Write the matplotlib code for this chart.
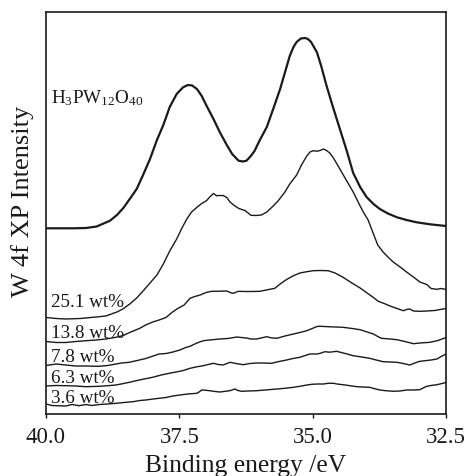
import matplotlib
matplotlib.use("Agg")
import matplotlib.pyplot as plt

plt.rcParams["font.family"] = ["Liberation Serif", "DejaVu Serif"]
plt.rcParams["mathtext.fontset"] = "custom"
plt.rcParams["mathtext.rm"] = "Liberation Serif"
plt.rcParams["mathtext.it"] = "Liberation Serif:italic"

# W 4f spectra: binding energy (eV) and intensity (arb. units, stacked)
hpw_energy = [40.00, 39.49, 39.25, 39.05, 38.80, 38.67, 38.55, 38.43, 38.30, 38.18,
              38.05, 37.92, 37.80, 37.68, 37.55, 37.43, 37.34, 37.26, 37.17, 37.08,
              36.99, 36.86, 36.74, 36.61, 36.51, 36.39, 36.31, 36.24, 36.16, 36.09,
              35.99, 35.86, 35.74, 35.61, 35.49, 35.43, 35.36, 35.30, 35.22, 35.14,
              35.09, 35.03, 34.92, 34.84, 34.74, 34.62, 34.49, 34.36, 34.24, 34.11,
              33.99, 33.86, 33.74, 33.59, 33.42, 33.24, 33.05, 32.80, 32.50]
hpw_int = [185.7, 185.7, 186.0, 187.5, 193.3, 199.0, 206.0, 215.0, 225.0, 239.0,
           255.0, 274.0, 289.0, 307.0, 320.0, 326.7, 329.0, 328.5, 325.0, 318.0,
           308.3, 295.0, 281.7, 269.0, 260.0, 253.3, 252.5, 253.3, 258.0, 263.0,
           274.0, 287.0, 305.0, 325.0, 347.0, 358.0, 367.0, 372.0, 375.5, 376.0,
           375.0, 372.0, 361.7, 348.0, 328.3, 307.0, 285.0, 263.0, 241.0, 227.0,
           217.0, 210.0, 205.0, 200.5, 196.7, 194.0, 191.7, 189.7, 188.0]

w251_energy = [40.00, 39.81, 39.63, 39.36, 39.06, 38.88, 38.67, 38.56, 38.43, 38.30,
               38.18, 38.05, 37.92, 37.80, 37.68, 37.55, 37.46, 37.36, 37.27, 37.17,
               37.08, 36.99, 36.93, 36.86, 36.80, 36.76, 36.68, 36.61, 36.55, 36.47,
               36.39, 36.33, 36.27, 36.21, 36.16, 36.06, 35.96, 35.86, 35.74, 35.65,
               35.52, 35.43, 35.30, 35.21, 35.11, 35.05, 34.99, 34.92, 34.86, 34.80,
               34.74, 34.68, 34.61, 34.49, 34.36, 34.24, 34.11, 34.05, 33.96, 33.86,
               33.78, 33.68, 33.59, 33.49, 33.36, 33.24, 33.11, 32.99, 32.86, 32.78,
               32.67, 32.59, 32.50]
w251_int = [96.5, 95.5, 95.0, 95.5, 97.0, 98.0, 102.0, 105.0, 110.0, 116.0,
            123.0, 131.0, 139.0, 150.0, 163.0, 175.0, 185.0, 195.0, 202.0, 206.7,
            210.5, 213.3, 217.0, 220.5, 218.2, 218.5, 218.5, 216.5, 212.0, 208.5,
            205.7, 204.5, 203.5, 201.0, 198.7, 198.5, 199.0, 202.0, 208.0, 213.0,
            222.0, 230.0, 239.0, 249.0, 258.0, 262.0, 263.3, 262.8, 263.5, 265.0,
            263.5, 261.0, 256.0, 245.0, 233.0, 222.0, 208.0, 202.0, 194.0, 180.0,
            169.0, 162.0, 157.0, 152.0, 147.0, 142.0, 137.0, 132.0, 129.5, 125.5,
            124.7, 125.5, 124.5]

w138_energy = [40.00, 39.81, 39.63, 39.44, 39.25, 39.06, 38.88, 38.71, 38.56, 38.41,
               38.25, 38.13, 38.00, 37.88, 37.75, 37.64, 37.53, 37.41, 37.30, 37.21,
               37.11, 37.00, 36.89, 36.74, 36.61, 36.55, 36.49, 36.39, 36.27, 36.14,
               35.99, 35.84, 35.71, 35.61, 35.49, 35.36, 35.24, 35.11, 34.99, 34.86,
               34.71, 34.58, 34.43, 34.28, 34.11, 33.98, 33.86, 33.77, 33.66, 33.55,
               33.42, 33.30, 33.23, 33.18, 33.11, 32.99, 32.86, 32.71, 32.50]
w138_int = [72.5, 71.5, 71.5, 72.5, 73.3, 74.0, 75.0, 76.5, 78.3, 82.0,
            85.5, 89.0, 92.0, 94.0, 96.5, 101.5, 105.5, 109.0, 115.7, 117.5,
            119.0, 121.5, 122.7, 122.8, 123.0, 121.5, 120.7, 122.7, 122.5, 122.5,
            122.7, 124.3, 125.7, 130.0, 134.5, 138.3, 141.0, 142.3, 143.3, 143.5,
            143.3, 141.0, 136.7, 131.5, 126.0, 121.0, 116.5, 112.7, 110.5, 108.0,
            105.5, 103.3, 104.7, 105.0, 103.0, 102.7, 103.0, 103.5, 105.5]

w78_energy = [40.00, 39.81, 39.63, 39.44, 39.25, 39.01, 38.84, 38.69, 38.58, 38.44,
              38.29, 38.13, 37.99, 37.88, 37.75, 37.62, 37.49, 37.38, 37.30, 37.17,
              37.05, 36.93, 36.74, 36.59, 36.42, 36.34, 36.24, 36.16, 36.05, 35.97,
              35.86, 35.78, 35.67, 35.52, 35.36, 35.24, 35.11, 35.03, 34.92, 34.86,
              34.67, 34.43, 34.26, 34.11, 33.98, 33.86, 33.78, 33.71, 33.55, 33.42,
              33.27, 33.11, 32.99, 32.80, 32.65, 32.50]
w78_int = [48.5, 50.0, 49.0, 48.0, 48.0, 47.7, 48.5, 50.0, 51.0, 51.7,
           53.5, 55.5, 58.0, 60.0, 60.5, 62.0, 64.0, 66.5, 67.7, 71.0,
           73.3, 74.0, 75.0, 75.5, 77.0, 76.5, 76.0, 75.0, 75.0, 76.0,
           77.3, 76.2, 75.7, 78.0, 80.0, 81.5, 83.3, 85.0, 87.5, 87.7,
           87.2, 86.7, 85.5, 84.3, 82.0, 80.0, 77.5, 75.7, 75.0, 74.3,
           72.5, 70.3, 71.0, 71.7, 73.5, 76.5]

w63_energy = [40.00, 39.81, 39.63, 39.44, 39.25, 39.00, 38.84, 38.69, 38.59, 38.50,
              38.41, 38.31, 38.16, 38.00, 37.84, 37.69, 37.56, 37.44, 37.30, 37.19,
              37.05, 36.96, 36.86, 36.77, 36.68, 36.55, 36.44, 36.30, 36.18, 36.05,
              35.93, 35.77, 35.63, 35.49, 35.37, 35.24, 35.14, 35.05, 34.92, 34.86,
              34.77, 34.68, 34.55, 34.39, 34.24, 34.08, 33.93, 33.81, 33.68, 33.55,
              33.42, 33.30, 33.18, 33.05, 32.99, 32.89, 32.78, 32.67, 32.59, 32.50]
w63_int = [28.0, 28.5, 28.3, 28.0, 27.3, 27.7, 28.3, 29.0, 30.0, 31.0,
           32.0, 33.3, 35.0, 36.7, 39.0, 40.7, 42.0, 43.3, 45.7, 47.0,
           48.3, 49.5, 50.7, 49.5, 49.0, 51.7, 50.5, 49.3, 50.5, 51.0,
           51.0, 50.7, 52.5, 54.0, 55.5, 56.7, 58.5, 60.0, 60.0, 60.7,
           62.3, 61.8, 62.7, 60.5, 58.3, 57.0, 55.7, 54.0, 52.3, 52.0,
           51.7, 50.5, 49.0, 51.7, 52.7, 53.3, 54.0, 55.0, 57.5, 60.0]

w36_energy = [40.00, 39.89, 39.75, 39.63, 39.51, 39.38, 39.25, 39.14, 39.00, 38.84,
              38.69, 38.54, 38.37, 38.24, 38.13, 37.99, 37.88, 37.75, 37.62, 37.49,
              37.34, 37.17, 37.13, 37.08, 37.00, 36.93, 36.83, 36.74, 36.64, 36.55,
              36.46, 36.40, 36.33, 36.21, 36.05, 35.89, 35.67, 35.52, 35.36, 35.24,
              35.11, 35.01, 34.92, 34.80, 34.71, 34.61, 34.52, 34.43, 34.30, 34.17,
              34.06, 33.93, 33.84, 33.74, 33.63, 33.49, 33.36, 33.24, 33.12, 32.99,
              32.93, 32.86, 32.78, 32.67, 32.59, 32.50]
w36_int = [10.0, 8.5, 8.2, 8.0, 9.5, 8.3, 9.5, 8.5, 9.5, 10.0,
           10.7, 11.5, 12.3, 13.5, 14.0, 15.0, 15.7, 16.5, 18.0, 19.0,
           20.0, 20.7, 22.0, 24.0, 23.7, 23.3, 22.5, 22.0, 22.7, 23.3,
           25.0, 23.5, 22.7, 23.0, 23.3, 24.0, 25.0, 25.7, 26.7, 27.7,
           29.0, 29.7, 30.0, 30.0, 30.7, 30.7, 29.8, 29.3, 28.3, 27.3,
           27.0, 26.7, 25.3, 24.0, 23.3, 22.7, 23.0, 24.0, 24.0, 24.3,
           26.0, 27.7, 28.5, 29.3, 30.3, 31.5]

labels = ["H$_{3}$PW$_{12}$O$_{40}$", "25.1 wt%", "13.8 wt%", "7.8 wt%", "6.3 wt%", "3.6 wt%"]
label_y = [311.7, 108.3, 76.7, 53.3, 31.7, 11.7]
tick_values = [40.0, 37.5, 35.0, 32.5]
tick_labels = ["40.0", "37.5", "35.0", "32.5"]

series = [(hpw_energy, hpw_int), (w251_energy, w251_int), (w138_energy, w138_int),
          (w78_energy, w78_int), (w63_energy, w63_int), (w36_energy, w36_int)]
widths = [1.6, 1.0, 1.0, 1.0, 1.0, 1.0]

fig = plt.figure(figsize=(4.70, 4.77), dpi=100)
ax = fig.add_axes([46 / 470, 62 / 477, 400 / 470, 402 / 477])

for (e, y), lw in zip(series, widths):
    ax.plot(e, y, color="#1a1a1a", lw=lw, solid_joinstyle="round")

for text, yl in zip(labels, label_y):
    ax.text(39.91, yl, text, fontsize=13.8, ha="left", va="baseline", color="#1a1a1a")

ax.set_xlim(40.0, 32.5)
ax.set_ylim(0, 402)
ax.set_xticks(tick_values)
ax.set_xticklabels(tick_labels, fontsize=16.5)
ax.set_yticks([])
ax.tick_params(axis="x", direction="out", length=3, width=1.0, pad=6, colors="#1a1a1a")
for sp in ax.spines.values():
    sp.set_linewidth(1.2)
    sp.set_color("#1a1a1a")

ax.set_xlabel("Binding energy /eV", fontsize=18.4, va="baseline", color="#1a1a1a")
ax.xaxis.set_label_coords(0.5, -0.141)
ax.set_ylabel("W 4f XP Intensity", fontsize=19, va="center", color="#1a1a1a")
ax.yaxis.set_label_coords(-0.059, 0.531)

fig.savefig("out.png", dpi=100)
